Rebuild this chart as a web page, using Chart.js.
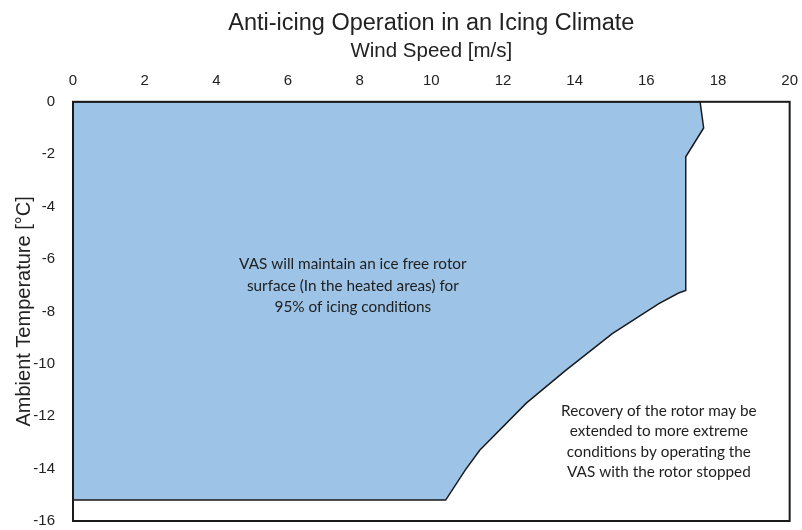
<!DOCTYPE html>
<html>
<head>
<meta charset="utf-8">
<script src="https://cdn.jsdelivr.net/npm/chart.js@4"></script>
<style>
  body { margin: 0; background: #fff; }
  #wrap { width: 802px; height: 530px; }
</style>
</head>
<body>
<div id="wrap"><canvas id="graph" width="802" height="530"></canvas></div>
<script>
// boundary of the anti-icing region (wind speed m/s, temperature °C)
const windSpeed = [0, 17.5, 17.6, 17.1, 17.1, 16.9, 16.35, 15.05, 13.75, 12.65, 11.35, 10.95, 10.4, 0, 0];
const temperature = [0, 0, -1.0, -2.1, -7.2, -7.3, -7.7, -8.85, -10.25, -11.5, -13.3, -14.05, -15.2, -15.2, 0];

const windTicks = [0, 2, 4, 6, 8, 10, 12, 14, 16, 18, 20];
const tempTicks = [0, -2, -4, -6, -8, -10, -12, -14, -16];

const noteInside = ['VAS will maintain an ice free rotor', 'surface (In the heated areas) for', '95% of icing conditions'];
const noteOutside = ['Recovery of the rotor may be', 'extended to more extreme', 'conditions by operating the', 'VAS with the rotor stopped'];

const graphRef = document.getElementById('graph');

const points = windSpeed.map((x, i) => ({ x: x, y: temperature[i] }));

// frame around the plot area + text notes
const extras = {
  id: 'extras',
  afterDatasetsDraw(chart) {
    const { ctx, chartArea, scales } = chart;
    ctx.save();
    ctx.strokeStyle = '#1a1a1a';
    ctx.lineWidth = 2;
    ctx.strokeRect(chartArea.left, chartArea.top, chartArea.right - chartArea.left, chartArea.bottom - chartArea.top);

    ctx.fillStyle = '#1e1e1e';
    ctx.font = '15.3px Lato';
    ctx.textAlign = 'center';
    ctx.textBaseline = 'middle';
    const drawNote = (lines, x, y, step) => {
      const px = scales.x.getPixelForValue(x);
      const py = scales.y.getPixelForValue(y);
      lines.forEach((l, i) => ctx.fillText(l, px, py + i * step));
    };
    drawNote(noteInside, 7.81, -6.2, 21.5);
    drawNote(noteOutside, 16.35, -11.79, 20.5);
    ctx.restore();
  }
};

new Chart(graphRef, {
  type: 'scatter',
  data: {
    datasets: [
      {
        data: points,
        showLine: true,
        fill: 'shape',
        backgroundColor: '#9dc3e6',
        borderColor: '#1a1a1a',
        borderWidth: 1.5,
        pointRadius: 0,
        tension: 0,
      },
    ],
  },
  options: {
    responsive: false,
    animation: false,
    layout: { padding: { top: 4, right: 2, bottom: 0, left: 10 } },
    plugins: {
      legend: { display: false },
      tooltip: { enabled: false },
      title: {
        display: true,
        fullSize: false,
        text: 'Anti-icing Operation in an Icing Climate',
        color: '#222',
        font: { family: 'Liberation Sans', size: 23.5, weight: 'normal' },
        padding: { top: 5, bottom: 2 },
      },
    },
    scales: {
      x: {
        type: 'linear',
        position: 'top',
        min: 0,
        max: 20,
        afterBuildTicks: (s) => { s.ticks = windTicks.map((v) => ({ value: v })); },
        grid: { display: false },
        border: { display: false },
        ticks: { color: '#222', font: { family: 'Liberation Sans', size: 15 }, padding: 4 },
        title: {
          display: true,
          text: 'Wind Speed [m/s]',
          color: '#222',
          font: { family: 'Liberation Sans', size: 20.5 },
          padding: { top: 0, bottom: 4 },
        },
      },
      y: {
        type: 'linear',
        min: -16,
        max: 0,
        afterBuildTicks: (s) => { s.ticks = tempTicks.map((v) => ({ value: v })); },
        // fixed axis width, and keep the bottom tight
        afterFit: (s) => { s.width = 63; s.paddingBottom = 9; },
        grid: { display: false, drawTicks: false },
        border: { display: false },
        ticks: { color: '#222', font: { family: 'Liberation Sans', size: 15 }, padding: 18 },
        title: {
          display: true,
          text: 'Ambient Temperature [°C]',
          color: '#222',
          font: { family: 'Liberation Sans', size: 20 },
          padding: { top: 2, bottom: 0 },
        },
      },
    },
  },
  plugins: [extras],
});
</script>
</body>
</html>
